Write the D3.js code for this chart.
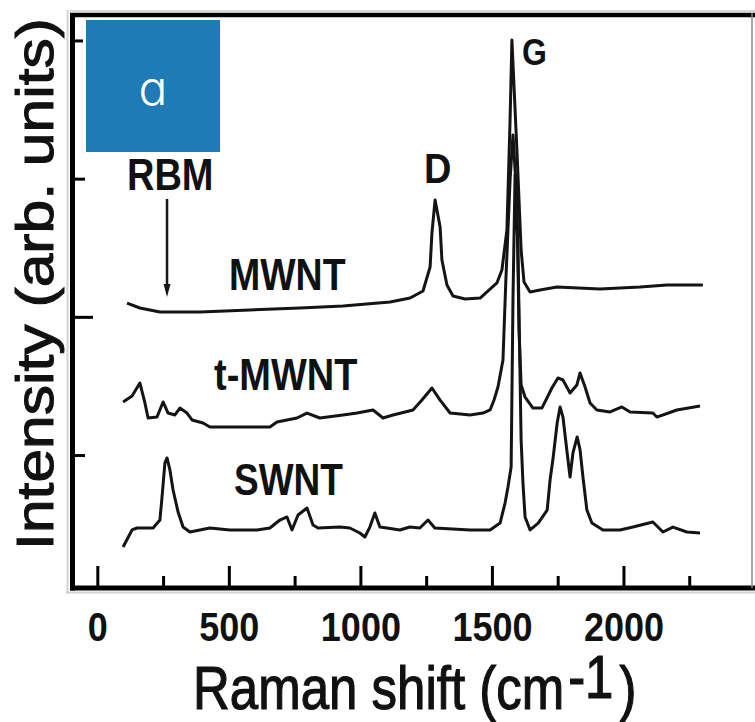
<!DOCTYPE html>
<html>
<head>
<meta charset="utf-8">
<script src="https://cdn.jsdelivr.net/npm/d3@7"></script>
<style>
  html, body { margin: 0; padding: 0; background: #fff; }
  svg { display: block; }
  .lab { font-family: "Liberation Sans", Arial, sans-serif; font-weight: bold; fill: #111; }
</style>
</head>
<body>
<svg id="chart" width="755" height="722"></svg>
<script>
// Raman spectra of three nanotube samples (offset traces), shift in cm^-1 vs intensity (arb. units)
const xTicksMajor = [0, 500, 1000, 1500, 2000];
const xTicksMinor = [250, 750, 1250, 1750, 2250];
const yTicks = [1, 2, 3, 4];

const mwnt = [
  [113, 2.100], [162, 2.064], [238, 2.035], [390, 2.035], [580, 2.050], [770, 2.064],
  [934, 2.079], [1113, 2.108], [1189, 2.136], [1238, 2.187], [1265, 2.361], [1272, 2.607],
  [1284, 2.846], [1303, 2.650], [1310, 2.411], [1329, 2.231], [1352, 2.151], [1398, 2.129],
  [1455, 2.136], [1519, 2.245], [1538, 2.339], [1557, 2.628], [1569, 3.425], [1576, 4.003],
  [1595, 3.207], [1611, 2.484], [1622, 2.252], [1645, 2.180], [1683, 2.194], [1747, 2.216],
  [1911, 2.202], [2063, 2.216], [2165, 2.231], [2302, 2.231]
];

const tMwnt = [
  [98, 1.384], [132, 1.427], [162, 1.521], [181, 1.377], [193, 1.268], [227, 1.275],
  [250, 1.384], [269, 1.304], [295, 1.290], [314, 1.340], [341, 1.304], [360, 1.254],
  [402, 1.232], [428, 1.203], [542, 1.203], [656, 1.203], [683, 1.239], [759, 1.268],
  [797, 1.304], [846, 1.268], [934, 1.290], [987, 1.304], [1048, 1.326], [1086, 1.268],
  [1124, 1.290], [1170, 1.312], [1200, 1.326], [1234, 1.398], [1272, 1.485], [1303, 1.398],
  [1341, 1.304], [1417, 1.290], [1466, 1.304], [1493, 1.326], [1508, 1.398], [1523, 1.492],
  [1542, 1.688], [1553, 2.267], [1569, 2.990], [1580, 3.316], [1595, 2.846], [1603, 1.905],
  [1611, 1.507], [1626, 1.420], [1656, 1.340], [1690, 1.340], [1728, 1.485], [1751, 1.558],
  [1770, 1.543], [1797, 1.449], [1823, 1.507], [1835, 1.594], [1854, 1.492], [1873, 1.377],
  [1899, 1.326], [1949, 1.312], [1994, 1.348], [2025, 1.312], [2112, 1.304], [2127, 1.275],
  [2203, 1.326], [2291, 1.355]
];

const swnt = [
  [98, 0.335], [132, 0.458], [151, 0.472], [212, 0.472], [238, 0.530], [246, 0.696],
  [257, 0.943], [265, 0.979], [276, 0.892], [288, 0.747], [307, 0.588], [326, 0.479],
  [352, 0.443], [428, 0.472], [504, 0.458], [607, 0.458], [656, 0.472], [694, 0.530],
  [721, 0.552], [740, 0.458], [763, 0.566], [797, 0.617], [820, 0.494], [839, 0.472],
  [922, 0.479], [960, 0.472], [998, 0.436], [1017, 0.407], [1036, 0.479], [1055, 0.581],
  [1074, 0.479], [1101, 0.472], [1150, 0.458], [1188, 0.479], [1226, 0.472], [1257, 0.530],
  [1283, 0.472], [1417, 0.458], [1493, 0.458], [1531, 0.508], [1550, 0.653], [1561, 0.769],
  [1573, 0.914], [1580, 2.122], [1588, 3.026], [1599, 2.484], [1611, 1.109], [1618, 0.798],
  [1626, 0.552], [1645, 0.458], [1676, 0.508], [1710, 0.602], [1721, 0.819], [1733, 0.986],
  [1748, 1.232], [1759, 1.348], [1770, 1.275], [1786, 1.015], [1797, 0.841], [1808, 1.015],
  [1824, 1.131], [1835, 1.037], [1846, 0.841], [1861, 0.602], [1880, 0.508], [1922, 0.458],
  [1987, 0.458], [2036, 0.479], [2112, 0.516], [2150, 0.443], [2188, 0.479], [2241, 0.443],
  [2291, 0.436]
];

const svg = d3.select("#chart");

const x = d3.scaleLinear().domain([-100, 2500]).range([71, 755]);
const y = d3.scaleLinear().domain([0.038, 4.2]).range([588, 12.8]);

// faint edge shading around the frame
svg.append("line").attr("x1", 67.5).attr("x2", 67.5).attr("y1", 10).attr("y2", 594)
  .attr("stroke", "#d4d4d4").attr("stroke-width", 2);
svg.append("line").attr("x1", 66).attr("x2", 755).attr("y1", 592.5).attr("y2", 592.5)
  .attr("stroke", "#d4d4d4").attr("stroke-width", 2);
svg.append("line").attr("x1", 70).attr("x2", 755).attr("y1", 11).attr("y2", 11)
  .attr("stroke", "#d8d8d8").attr("stroke-width", 2);

// spectra
const line = d3.line().x(d => x(d[0])).y(d => y(d[1]));
[mwnt, tMwnt, swnt].forEach(series => {
  svg.append("path").datum(series)
    .attr("d", line)
    .attr("fill", "none")
    .attr("stroke", "#141414")
    .attr("stroke-width", 3)
    .attr("stroke-linejoin", "round");
});

// x axis ticks (inward)
const xMajor = svg.append("g").attr("transform", "translate(0,588)")
  .call(d3.axisTop(x).tickValues(xTicksMajor).tickSize(22).tickFormat(""));
const xMinor = svg.append("g").attr("transform", "translate(0,588)")
  .call(d3.axisTop(x).tickValues(xTicksMinor).tickSize(12).tickFormat(""));
[xMajor, xMinor].forEach(g => {
  g.select(".domain").remove();
  g.selectAll("line").attr("stroke", "#000").attr("stroke-width", 3);
});

// x tick labels
const xLab = svg.append("g").attr("transform", "translate(0,588)")
  .call(d3.axisBottom(x).tickValues(xTicksMajor).tickSize(0).tickFormat(d3.format("d")));
xLab.select(".domain").remove();
xLab.selectAll("text")
  .attr("y", null).attr("dy", null)
  .attr("transform", "translate(0,53) scale(1,1.15)")
  .attr("class", "lab")
  .style("font-size", "36px")
  .attr("fill", "#111");
xLab.attr("font-family", null).attr("font-size", null);

// y axis ticks (inward)
const yTickLen = { 1: 12, 2: 20, 3: 12, 4: 10 };
const yAx = svg.append("g").attr("transform", "translate(73,0)")
  .call(d3.axisRight(y).tickValues(yTicks).tickFormat(""));
yAx.select(".domain").remove();
yAx.selectAll("line").attr("x2", d => yTickLen[d]).attr("stroke", "#000").attr("stroke-width", 3);

// frame
svg.append("line").attr("x1", 70).attr("x2", 755).attr("y1", 15).attr("y2", 15)
  .attr("stroke", "#000").attr("stroke-width", 4.5);
svg.append("line").attr("x1", 72.5).attr("x2", 72.5).attr("y1", 13).attr("y2", 590.5)
  .attr("stroke", "#000").attr("stroke-width", 5);
svg.append("line").attr("x1", 70).attr("x2", 755).attr("y1", 588).attr("y2", 588)
  .attr("stroke", "#000").attr("stroke-width", 5);
svg.append("line").attr("x1", 752).attr("x2", 752).attr("y1", 13).attr("y2", 588)
  .attr("stroke", "#888").attr("stroke-width", 1.5);

// panel badge
svg.append("rect").attr("x", 86).attr("y", 20).attr("width", 134).attr("height", 132)
  .attr("fill", "#1f7bb5");
svg.append("text").attr("x", 153).attr("y", 105)
  .attr("text-anchor", "middle")
  .style("font-family", "Inter, 'Noto Sans', sans-serif")
  .style("font-weight", 300)
  .style("font-size", "48px")
  .style("font-feature-settings", "'cv11' 1")
  .attr("fill", "#fff")
  .text("a");

// labels for traces and bands
function label(txt, px, py, size, sy, anchor) {
  svg.append("text")
    .attr("class", "lab")
    .attr("text-anchor", anchor || "start")
    .attr("transform", `translate(${px},${py}) scale(1,${sy})`)
    .style("font-size", size + "px")
    .text(txt);
}
label("RBM", 127, 190, 38, 1.18);
label("MWNT", 229, 290, 37.5, 1.18);
label("t-MWNT", 214, 390, 38, 1.15);
label("SWNT", 234, 495, 37, 1.18);
label("D", 424, 183, 38, 1.1);
label("G", 522, 65, 32, 1.18);

// RBM arrow
const ax = x(265);
svg.append("line").attr("x1", ax).attr("x2", ax).attr("y1", 199).attr("y2", 290)
  .attr("stroke", "#161616").attr("stroke-width", 2.5);
svg.append("path")
  .attr("d", `M${ax - 3.5},${284} L${ax + 3.5},${284} L${ax},${297} Z`)
  .attr("fill", "#161616");

// axis titles
svg.append("text")
  .attr("transform", "translate(193,709) scale(1,1.18)")
  .style("font-family", "'Liberation Sans', Arial, sans-serif")
  .style("font-size", "51px")
  .attr("fill", "#111")
  .attr("stroke", "#111")
  .attr("stroke-width", 1)
  .call(t => {
    t.append("tspan").text("Raman shift (cm");
    t.append("tspan").attr("dx", 4).attr("dy", -9).text("-1");
    t.append("tspan").attr("dx", 6).attr("dy", 9).text(")");
  });

svg.append("text")
  .attr("transform", "translate(53,284) rotate(-90) scale(1.165,1)")
  .attr("text-anchor", "middle")
  .style("font-family", "'Liberation Sans', Arial, sans-serif")
  .style("font-size", "52px")
  .attr("fill", "#111")
  .attr("stroke", "#111")
  .attr("stroke-width", 1)
  .text("Intensity (arb. units)");
</script>
</body>
</html>
